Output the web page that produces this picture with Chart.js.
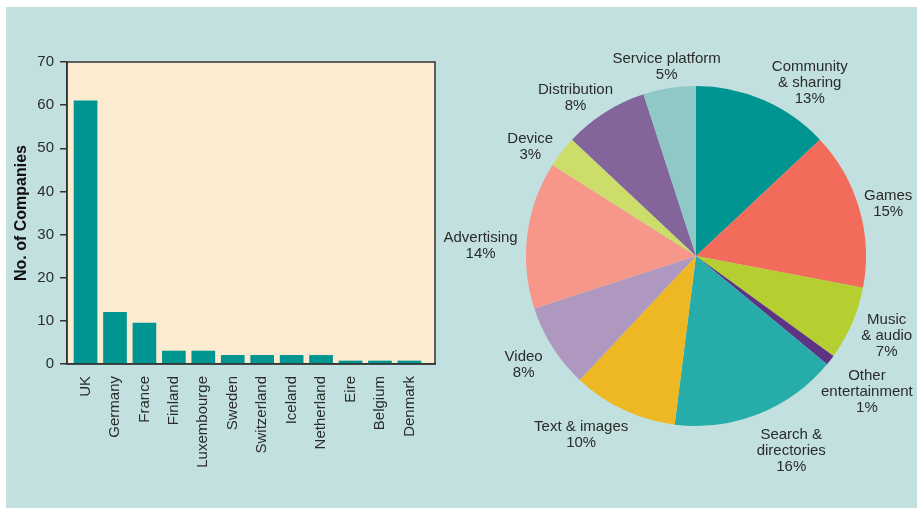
<!DOCTYPE html>
<html>
<head>
<meta charset="utf-8">
<script src="https://cdn.jsdelivr.net/npm/chart.js@4.4.1/dist/chart.umd.min.js"></script>
<style>
  html, body { margin: 0; padding: 0; background: #ffffff; }
  body { width: 917px; height: 508px; position: relative; overflow: hidden; }
  #panel { position: absolute; left: 6px; top: 7px; width: 911px; height: 501px; background: #c2e0df; }
  #barWrap { position: absolute; left: 6px; top: 7px; width: 440px; height: 501px; }
  #pieWrap { position: absolute; left: 440px; top: 7px; width: 477px; height: 501px; }
</style>
</head>
<body>
<div id="panel"></div>
<div id="barWrap"><canvas id="graficoPaises" width="440" height="501"></canvas></div>
<div id="pieWrap"><canvas id="graficoSetores" width="477" height="501"></canvas></div>
<script>
// dados das barras (empresas por país)
const paises = ['UK', 'Germany', 'France', 'Finland', 'Luxembourge', 'Sweden',
    'Switzerland', 'Iceland', 'Netherland', 'Eire', 'Belgium', 'Denmark'];
const empresas = [61, 12, 9.5, 3, 3, 2, 2, 2, 2, 0.7, 0.7, 0.7];
const ticksY = [0, 10, 20, 30, 40, 50, 60, 70];

// dados da pizza (percentual por setor)
const setores = [['Community', '& sharing'], ['Games'], ['Music', '& audio'],
    ['Other', 'entertainment'], ['Search &', 'directories'], ['Text & images'],
    ['Video'], ['Advertising'], ['Device'], ['Distribution'], ['Service platform']];
const percentuais = [13, 15, 7, 1, 16, 10, 8, 14, 3, 8, 5];
const coresSetores = ['#009590', '#f26b5b', '#b5cf30', '#5f3384', '#26ada9', '#eeb824',
    '#ae98c0', '#f7978a', '#ccdd6a', '#83659c', '#8fc8c6'];
// ajuste fino da posicao de cada rotulo (px)
const ajusteRotulos = [[28, 12], [-2, 2], [4, 0], [-6, 12], [17, 7], [-19, 3],
    [-6, 5], [-2, 14], [-7, 10], [-5, 6], [7, 2]];

const fonte = '"Liberation Sans", Arial, Helvetica, sans-serif';
const corTexto = '#2b2b2b';

// fundo creme e moldura da area do grafico de barras
const molduraPlot = {
    id: 'molduraPlot',
    beforeDraw(chart) {
        const a = chart.chartArea, ctx = chart.ctx;
        ctx.save();
        ctx.fillStyle = '#fbebd0';
        ctx.fillRect(a.left, a.top, a.right - a.left, a.bottom - a.top);
        ctx.restore();
    },
    afterDraw(chart) {
        const a = chart.chartArea, ctx = chart.ctx;
        ctx.save();
        ctx.strokeStyle = '#333333';
        ctx.lineWidth = 1.5;
        ctx.strokeRect(a.left, a.top, a.right - a.left, a.bottom - a.top);
        ctx.restore();
    }
};

new Chart(document.getElementById('graficoPaises'), {
    type: 'bar',
    data: {
        datasets: [{
            data: empresas.map((v, i) => ({ x: i, y: v })),
            backgroundColor: '#009590',
            borderWidth: 0,
            barThickness: 23
        }]
    },
    options: {
        responsive: false,
        animation: false,
        layout: { autoPadding: false, padding: { top: 55, right: 11, left: 0, bottom: 0 } },
        plugins: { legend: { display: false }, tooltip: { enabled: false } },
        scales: {
            x: {
                type: 'linear',
                min: -0.63, max: 11.87,
                offset: false,
                afterBuildTicks(s) { s.ticks = paises.map((p, i) => ({ value: i })); },
                grid: { display: false, drawTicks: false },
                border: { display: true, color: '#333333', width: 1.5 },
                ticks: {
                    minRotation: 90, maxRotation: 90, padding: 12, autoSkip: false,
                    color: corTexto, font: { family: fonte, size: 15 },
                    callback: v => paises[v]
                },
                afterFit(s) { s.height = 501 - 357; }
            },
            y: {
                min: 0, max: 70,
                afterBuildTicks(s) { s.ticks = ticksY.map(v => ({ value: v })); },
                grid: { drawOnChartArea: false, color: '#333333', tickLength: 7, lineWidth: 1.5 },
                border: { display: true, color: '#333333', width: 1.5 },
                ticks: { padding: 6, color: corTexto, font: { family: fonte, size: 15 } },
                title: {
                    display: true, text: 'No. of Companies', color: '#111111',
                    font: { family: fonte, size: 16, weight: 'bold' }, padding: { top: 6, bottom: 0 }
                },
                afterFit(s) { s.width = 61; }
            }
        }
    },
    plugins: [molduraPlot]
});

// rotulos fora da pizza
const rotulosPizza = {
    id: 'rotulosPizza',
    afterDraw(chart) {
        const ctx = chart.ctx;
        const arcos = chart.getDatasetMeta(0).data;
        ctx.save();
        ctx.font = '15px ' + fonte;
        ctx.fillStyle = corTexto;
        ctx.textAlign = 'center';
        ctx.textBaseline = 'middle';
        const altLinha = 16;
        arcos.forEach((arc, i) => {
            const p = arc.getProps(['x', 'y', 'startAngle', 'endAngle', 'outerRadius'], true);
            const meio = (p.startAngle + p.endAngle) / 2;
            const linhas = setores[i].concat([percentuais[i] + '%']);
            const larg = Math.max(...linhas.map(l => ctx.measureText(l).width));
            const alt = linhas.length * altLinha;
            const c = Math.cos(meio), s = Math.sin(meio);
            const dist = p.outerRadius + 8;
            const cx = p.x + dist * c + (larg / 2) * c + ajusteRotulos[i][0];
            const cy = p.y + dist * s + (alt / 2) * s + ajusteRotulos[i][1];
            linhas.forEach((l, k) => {
                ctx.fillText(l, cx, cy - alt / 2 + altLinha / 2 + k * altLinha);
            });
        });
        ctx.restore();
    }
};

new Chart(document.getElementById('graficoSetores'), {
    type: 'pie',
    data: {
        labels: setores.map(s => s.join(' ')),
        datasets: [{
            data: percentuais,
            backgroundColor: coresSetores,
            borderWidth: 0
        }]
    },
    options: {
        responsive: false,
        animation: false,
        layout: { padding: { left: 86, right: 51, top: 79, bottom: 82 } },
        plugins: { legend: { display: false }, tooltip: { enabled: false } }
    },
    plugins: [rotulosPizza]
});
</script>
</body>
</html>
